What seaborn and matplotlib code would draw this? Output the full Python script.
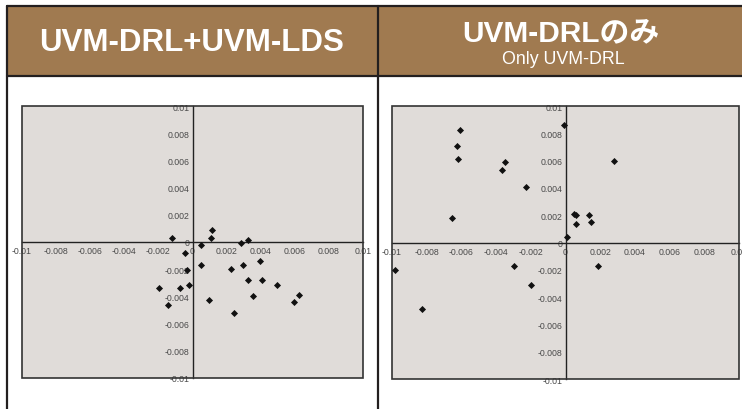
import matplotlib
matplotlib.use("Agg")
import matplotlib.pyplot as plt
import seaborn as sns
import pandas as pd
from matplotlib.patches import Rectangle
from matplotlib.lines import Line2D
from matplotlib.ticker import FixedLocator, FuncFormatter

# ---- data ----
titles = ["UVM-DRL+UVM-LDS", "UVM-DRLのみ"]
subtitle_right = "Only UVM-DRL"

left_x = [-0.00123, -0.00045, 0.00047, 0.00106, 0.00115, 0.00285, 0.00326,
          -0.00033, 0.00047, -0.00194, -0.00074, -0.00023, -0.00143, 0.00097,
          0.00225, 0.00297, 0.00397, 0.00324, 0.00405, 0.00355, 0.00494,
          0.00246, 0.00594, 0.00625]
left_y = [0.00032, -0.00078, -0.00019, 0.00032, 0.00091, -0.00010, 0.00012,
          -0.00208, -0.00169, -0.00340, -0.00340, -0.00318, -0.00460, -0.00429,
          -0.00198, -0.00169, -0.00142, -0.00280, -0.00280, -0.00400, -0.00318,
          -0.00520, -0.00438, -0.00390]

right_x = [-0.00009, -0.00606, -0.00625, -0.00617, -0.00349, -0.00367, -0.00229,
           -0.00657, 0.00278, 0.00050, 0.00061, 0.00059, 0.00137, 0.00149,
           0.00010, -0.00983, -0.00825, -0.00297, -0.00198, 0.00189]
right_y = [0.00860, 0.00822, 0.00709, 0.00610, 0.00590, 0.00529, 0.00410,
           0.00178, 0.00600, 0.00210, 0.00200, 0.00139, 0.00200, 0.00151,
           0.00040, -0.00200, -0.00485, -0.00173, -0.00314, -0.00173]

ticks = [-0.01, -0.008, -0.006, -0.004, -0.002, 0, 0.002, 0.004, 0.006, 0.008, 0.01]

# ---- figure ----
sns.set_style("white")
plt.rcParams["font.family"] = ["Liberation Sans", "Noto Sans CJK JP", "DejaVu Sans"]

W, H = 742, 410
fig = plt.figure(figsize=(W / 100, H / 100), dpi=100)
fig.patch.set_facecolor("white")

def px_rect(x0, y0, x1, y1):
    return [x0 / W, 1 - y1 / H, (x1 - x0) / W, (y1 - y0) / H]

brown = "#A07A50"
frame = "#231f1f"

# header bands
for (x0, x1) in [(7, 378), (378, 742)]:
    fig.add_artist(Rectangle((x0 / W, 1 - 77 / H), (x1 - x0) / W, 70 / H,
                             transform=fig.transFigure, facecolor=brown,
                             edgecolor="none", zorder=0))

# frame lines
lw = 1.6
def fline(x0, y0, x1, y1):
    fig.add_artist(Line2D([x0 / W, x1 / W], [1 - y0 / H, 1 - y1 / H],
                          transform=fig.transFigure, color=frame, lw=lw, zorder=5))
fline(7, 7, 742, 7)
fline(7, 77, 742, 77)
fline(7, 7, 7, 410)
fline(378, 7, 378, 410)

fig.text(192 / W, 1 - 43 / H, titles[0], ha="center", va="center",
         color="white", fontsize=22.5, fontweight="bold")
fig.text(561 / W, 1 - 33 / H, titles[1], ha="center", va="center",
         color="white", fontsize=21.5, fontweight="bold")
fig.text(563 / W, 1 - 59 / H, subtitle_right, ha="center", va="center",
         color="white", fontsize=12.8)

def fmt(v, pos):
    v = round(v, 4)
    if abs(v) < 1e-12:
        return "0"
    return f"{v:g}"

def make_panel(rect, xs, ys):
    ax = fig.add_axes(rect)
    ax.set_facecolor("#E0DCD9")
    df = pd.DataFrame({"x": xs, "y": ys})
    sns.scatterplot(data=df, x="x", y="y", ax=ax, marker="D", s=13,
                    color="#111111", linewidth=0, zorder=4, clip_on=False)
    ax.set_xlim(-0.01, 0.01)
    ax.set_ylim(-0.01, 0.01)
    ax.set_xlabel("")
    ax.set_ylabel("")
    for s in ["top", "right"]:
        ax.spines[s].set_visible(False)
    ax.spines["left"].set_position(("data", 0))
    ax.spines["bottom"].set_position(("data", 0))
    for s in ["left", "bottom"]:
        ax.spines[s].set_color("#222222")
        ax.spines[s].set_linewidth(1.0)
    ax.xaxis.set_major_locator(FixedLocator(ticks))
    ax.yaxis.set_major_locator(FixedLocator(ticks))
    ax.xaxis.set_major_formatter(FuncFormatter(fmt))
    ax.yaxis.set_major_formatter(FuncFormatter(fmt))
    ax.tick_params(axis="both", direction="in", length=2.5, width=0.8,
                   color="#222222", labelsize=6.3, labelcolor="#4a4a4a", pad=2)
    ax.tick_params(axis="x", pad=3)
    ax.add_patch(Rectangle((0, 0), 1, 1, transform=ax.transAxes, fill=False,
                           edgecolor="#333333", lw=1.2, clip_on=False, zorder=3))
    return ax

make_panel(px_rect(22, 107, 363, 379), left_x, left_y)
make_panel(px_rect(392, 107, 739, 380), right_x, right_y)

fig.savefig("out.png", dpi=100, facecolor="white")
